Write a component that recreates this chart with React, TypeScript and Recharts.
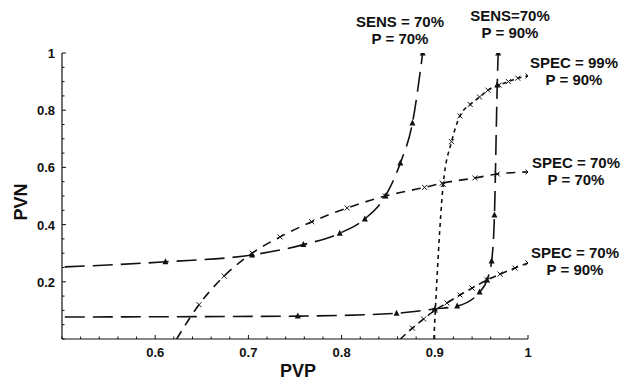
import React from 'react';
import { LineChart, Line, XAxis, YAxis } from 'recharts';

// PVP / PVN curves, as [PVP, PVN] pairs
const sens70p70: number[][] = [
  [0.503, 0.252], [0.611, 0.27], [0.704, 0.294], [0.759, 0.33], [0.798, 0.37],
  [0.825, 0.42], [0.847, 0.5], [0.863, 0.615], [0.876, 0.755], [0.887, 1.0],
];
const sens70p90: number[][] = [
  [0.503, 0.077], [0.753, 0.08], [0.859, 0.09], [0.9, 0.105], [0.924, 0.115],
  [0.948, 0.164], [0.956, 0.206], [0.961, 0.273], [0.964, 0.434], [0.967, 0.888], [0.968, 1.0],
];
const spec99p90: number[][] = [
  [0.899, 0], [0.909, 0.54], [0.918, 0.69], [0.927, 0.78], [0.938, 0.82], [0.948, 0.846],
  [0.957, 0.87], [0.969, 0.888], [0.979, 0.9], [0.989, 0.912], [1.0, 0.92],
];
const spec70p70: number[][] = [
  [0.623, 0], [0.647, 0.12], [0.674, 0.22], [0.704, 0.3], [0.734, 0.357], [0.768, 0.41],
  [0.806, 0.458], [0.847, 0.5], [0.889, 0.53], [0.908, 0.545], [0.943, 0.563],
  [0.967, 0.577], [1.0, 0.584],
];
const spec70p90: number[][] = [
  [0.863, 0], [0.876, 0.038], [0.888, 0.07], [0.9, 0.1], [0.913, 0.126], [0.927, 0.154],
  [0.94, 0.178], [0.956, 0.206], [0.97, 0.227], [0.986, 0.248], [1.0, 0.266],
];

const xTicks = [0.6, 0.7, 0.8, 0.9, 1];
const xTickLabels = ['0.6', '0.7', '0.8', '0.9', '1'];
const yTicks = [0.2, 0.4, 0.6, 0.8, 1];
const yTickLabels = ['0.2', '0.4', '0.6', '0.8', '1'];

// minor ticks: every 0.02 on x, every 0.05 on y
const xMinor = Array.from({ length: 26 }, (_, i) => Math.round((0.5 + i * 0.02) * 100) / 100);
const yMinor = Array.from({ length: 21 }, (_, i) => Math.round(i * 5) / 100);

const toRows = (pts: number[][]) => pts.map(([x, y]) => ({ x, y }));

const INK = '#111';
const FONT = '"Liberation Sans", Arial, sans-serif';

const findMajor = (list: number[], v: number) => list.findIndex((t) => Math.abs(t - v) < 1e-6);

const XTick = (props: any) => {
  const { x, y, payload } = props;
  const idx = findMajor(xTicks, payload.value);
  return (
    <g>
      <line x1={x} x2={x} y1={y} y2={y - (idx >= 0 ? 4 : 2.5)} stroke={INK} strokeWidth={1} />
      {idx >= 0 && (
        <text x={x} y={y + 18} textAnchor="middle" fontSize={13} fontWeight="bold" fontFamily={FONT} fill={INK}>
          {xTickLabels[idx]}
        </text>
      )}
    </g>
  );
};

const YTick = (props: any) => {
  const { x, y, payload } = props;
  const idx = findMajor(yTicks, payload.value);
  return (
    <g>
      <line x1={x} x2={x + (idx >= 0 ? 4 : 2.5)} y1={y} y2={y} stroke={INK} strokeWidth={1} />
      {idx >= 0 && (
        <text x={x - 7} y={y + 5} textAnchor="end" fontSize={13} fontWeight="bold" fontFamily={FONT} fill={INK}>
          {yTickLabels[idx]}
        </text>
      )}
    </g>
  );
};

// no marker where a curve meets an axis
const onAxis = (p: any) => p && (p.x < 0.51 || p.y < 0.005);

const triangleDot = (props: any) => {
  const { cx, cy, index, payload } = props;
  if (onAxis(payload)) return <g key={`t-${index}`} />;
  return (
    <path
      key={`t-${index}`}
      d={`M${cx},${cy - 3.5} L${cx + 3},${cy + 2.5} L${cx - 3},${cy + 2.5} Z`}
      fill={INK}
    />
  );
};

const crossDot = (props: any) => {
  const { cx, cy, index, payload } = props;
  if (onAxis(payload)) return <g key={`c-${index}`} />;
  const s = 2.5;
  return (
    <g key={`c-${index}`}>
      <line x1={cx - s} y1={cy - s} x2={cx + s} y2={cy + s} stroke={INK} strokeWidth={1} />
      <line x1={cx - s} y1={cy + s} x2={cx + s} y2={cy - s} stroke={INK} strokeWidth={1} />
    </g>
  );
};

const Note = ({ x, y, lines }: { x: number; y: number; lines: string[] }) => (
  <text x={x} y={y} textAnchor="middle" fontSize={15} fontWeight="bold" fontFamily={FONT} fill={INK}>
    {lines.map((l, i) => (
      <tspan key={i} x={x} dy={i === 0 ? 0 : 17}>
        {l}
      </tspan>
    ))}
  </text>
);

export default function App() {
  const lineProps = {
    type: 'monotone' as const,
    dataKey: 'y',
    stroke: INK,
    strokeWidth: 1.6,
    isAnimationActive: false,
  };

  return (
    <div style={{ position: 'absolute', left: 0, top: 0, width: 624, height: 384, background: '#fff' }}>
      <LineChart width={624} height={384} margin={{ top: 53, right: 96, bottom: 15, left: 12 }}>
        <XAxis
          dataKey="x"
          type="number"
          domain={[0.5, 1]}
          ticks={xMinor}
          allowDataOverflow
          height={30}
          tickLine={false}
          tickSize={0}
          tickMargin={0}
          tick={<XTick />}
          axisLine={{ stroke: INK, strokeWidth: 1.2 }}
          interval={0}
        />
        <YAxis
          type="number"
          domain={[0, 1]}
          ticks={yMinor}
          allowDataOverflow
          width={50}
          tickLine={false}
          tickSize={0}
          tickMargin={0}
          tick={<YTick />}
          axisLine={{ stroke: INK, strokeWidth: 1.2 }}
          interval={0}
        />
        <Line {...lineProps} data={toRows(sens70p70)} strokeDasharray="20 8" dot={triangleDot} />
        <Line {...lineProps} data={toRows(sens70p90)} strokeDasharray="20 8" dot={triangleDot} />
        <Line {...lineProps} data={toRows(spec99p90)} strokeDasharray="4 4" dot={crossDot} />
        <Line {...lineProps} data={toRows(spec70p70)} strokeDasharray="9 7" dot={crossDot} />
        <Line {...lineProps} data={toRows(spec70p90)} strokeDasharray="7 5" dot={crossDot} />
      </LineChart>
      <svg width={624} height={384} style={{ position: 'absolute', left: 0, top: 0, pointerEvents: 'none' }}>
        <Note x={400} y={27} lines={['SENS = 70%', 'P = 70%']} />
        <Note x={510} y={21} lines={['SENS=70%', 'P = 90%']} />
        <Note x={574} y={68} lines={['SPEC = 99%', 'P = 90%']} />
        <Note x={576} y={168} lines={['SPEC = 70%', 'P = 70%']} />
        <Note x={575} y={258} lines={['SPEC = 70%', 'P = 90%']} />
        <text x={298} y={377} textAnchor="middle" fontSize={18} fontWeight="bold" fontFamily={FONT} fill={INK}>
          PVP
        </text>
        <text
          x={0}
          y={0}
          transform="translate(27,202) rotate(-90)"
          textAnchor="middle"
          fontSize={18}
          fontWeight="bold"
          fontFamily={FONT}
          fill={INK}
        >
          PVN
        </text>
      </svg>
    </div>
  );
}
